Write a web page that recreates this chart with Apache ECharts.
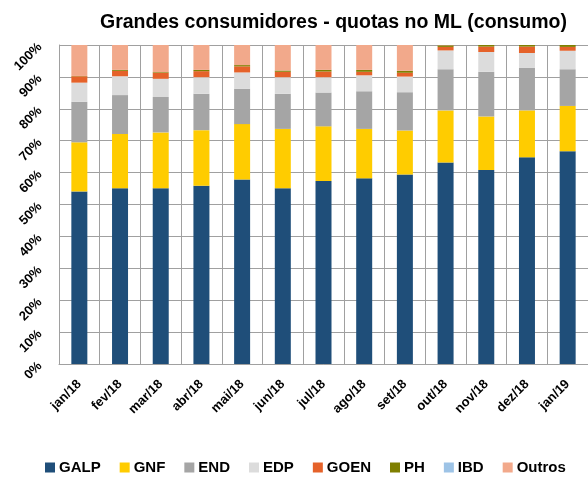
<!DOCTYPE html>
<html>
<head>
	<meta charset="utf-8" />
	<title>Grandes consumidores - quotas no ML</title>
	<script type="text/javascript" src="https://cdn.jsdelivr.net/npm/echarts@6/dist/echarts.min.js"></script>
	<style>
		html, body {margin:0;padding:0;background:#fff;}
		#chart {width:588px;height:477px;}
	</style>
</head>
<body>
	<div id="chart"></div>

	<script>
		var months = ['jan/18','fev/18','mar/18','abr/18','mai/18','jun/18','jul/18','ago/18','set/18','out/18','nov/18','dez/18','jan/19'];

		// quotas (%)
		var galp   = [54.1, 55.1, 55.1, 55.9, 57.8, 55.1, 57.4, 58.2, 59.4, 63.2, 60.8, 64.8, 66.7];
		var gnf    = [15.4, 17.0, 17.5, 17.4, 17.4, 18.6, 17.1, 15.5, 13.8, 16.3, 16.8, 14.7, 14.2];
		var end    = [12.7, 12.2, 11.1, 11.4, 11.1, 11.0, 10.6, 11.8, 12.0, 12.9, 14.0, 13.3, 11.5];
		var edp    = [ 6.0,  5.9,  5.7,  5.2,  5.1,  5.2,  4.8,  5.0,  4.9,  5.9,  6.2,  4.7,  5.8];
		var goen   = [ 2.0,  1.7,  1.9,  1.9,  1.9,  1.7,  1.8,  1.1,  1.2,  1.1,  1.7,  2.0,  1.2];
		var ph     = [ 0.1,  0.3,  0.2,  0.4,  0.4,  0.4,  0.5,  0.6,  0.6,  0.5,  0.5,  0.5,  0.6];
		var ibd    = [ 0,    0,    0,    0,    0,    0,    0,    0,    0,    0,    0,    0,    0  ];
		var outros = [ 9.7,  7.8,  8.5,  7.8,  6.3,  8.0,  7.8,  7.8,  8.1,  0.1,  0,    0,    0  ];

		var yTicks = [0, 10, 20, 30, 40, 50, 60, 70, 80, 90, 100];

		var seriesDef = [
			['GALP',   galp,   '#1f4e79'],
			['GNF',    gnf,    '#ffcc00'],
			['END',    end,    '#a5a5a5'],
			['EDP',    edp,    '#dcdcdc'],
			['GOEN',   goen,   '#e5622a'],
			['PH',     ph,     '#7f7f00'],
			['IBD',    ibd,    '#9dc3e6'],
			['Outros', outros, '#f2a98b']
		];

		var font = 'Liberation Sans, Arial, sans-serif';
		var chart = echarts.init(document.getElementById('chart'));

		var option = {
			animation: false,
			textStyle: {fontFamily: font},
			title: {
				text: 'Grandes consumidores - quotas no ML (consumo)',
				left: 95,
				top: 8,
				textStyle: {fontSize: 19.5, fontWeight: 'bold', color: '#000', fontFamily: font}
			},
			legend: {
				left: 40,
				top: 455,
				itemWidth: 10,
				itemHeight: 10,
				itemGap: 19,
				icon: 'rect',
				textStyle: {fontSize: 15, fontWeight: 'bold', color: '#000', fontFamily: font, padding: [0, 0, 0, -1]}
			},
			grid: {
				left: 59,
				right: -5,
				top: 45,
				bottom: 113,
				containLabel: false
			},
			xAxis: {
				type: 'category',
				data: months,
				axisLine: {lineStyle: {color: '#a0a0a0', width: 1}},
				axisTick: {show: false},
				splitLine: {show: true, interval: 0, lineStyle: {color: '#a0a0a0', width: 1}},
				axisLabel: {
					interval: 0,
					rotate: 45,
					margin: 18,
					fontSize: 13,
					fontWeight: 'bold',
					color: '#000'
				}
			},
			yAxis: {
				type: 'value',
				min: yTicks[0],
				max: yTicks[yTicks.length - 1],
				interval: 10,
				axisLine: {show: true, lineStyle: {color: '#a0a0a0', width: 1}},
				axisTick: {show: false},
				splitLine: {lineStyle: {color: '#a0a0a0', width: 1}},
				axisLabel: {
					formatter: '{value}%',
					rotate: 45,
					margin: 19,
					fontSize: 13,
					fontWeight: 'bold',
					color: '#000'
				}
			},
			series: seriesDef.map(function(d) {
				return {
					name: d[0],
					type: 'bar',
					stack: 'total',
					barWidth: 16,
					data: d[1],
					itemStyle: {color: d[2]},
					emphasis: {disabled: true}
				};
			})
		};

		chart.setOption(option);
	</script>
</body>
</html>
